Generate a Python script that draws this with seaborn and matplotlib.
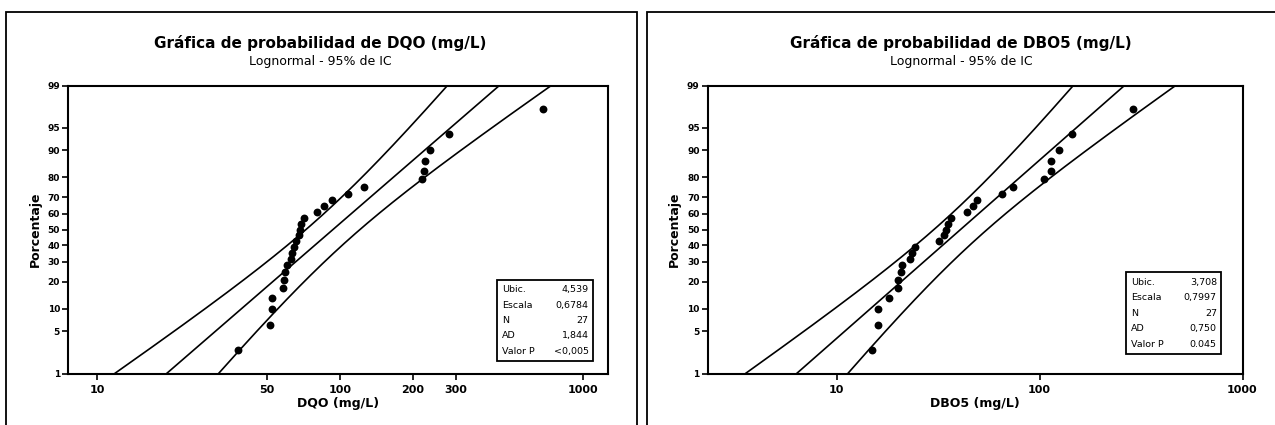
import numpy as np
import matplotlib
matplotlib.use("Agg")
import matplotlib.pyplot as plt
import seaborn as sns
from matplotlib.patches import Rectangle
from matplotlib.ticker import NullLocator
from statistics import NormalDist

# Data (sorted values, mg/L)
dqo_vals = [38, 51.5, 52.6, 52.6, 58.4, 59.0, 59.3, 60.3, 62.8, 63.7, 64.9, 66.2, 67.5, 68.4,
            69.4, 71.1, 80.6, 85.9, 92.4, 108, 126, 217, 222, 223, 236, 280, 684]
dbo5_vals = [15.0, 15.9, 15.9, 18.2, 20.1, 20.0, 20.7, 20.9, 23.0, 23.4, 24.3, 31.9, 33.8, 34.6,
             35.4, 36.4, 44.0, 47.1, 49.3, 65.1, 73.8, 105.6, 113.6, 113.6, 125.2, 145.2, 290]
# plotting positions (percent)
pct = [2.6, 6.2, 9.9, 13.5, 17.2, 20.8, 24.5, 28.1, 31.8, 35.4, 39.1, 42.7, 46.4, 50.0,
       53.6, 57.3, 60.9, 64.6, 68.2, 71.9, 75.5, 79.2, 82.8, 86.5, 90.1, 93.8, 97.4]

stat_labels = ["Ubic.", "Escala", "N", "AD", "Valor P"]
dqo_stats = ["4,539", "0,6784", "27", "1,844", "<0,005"]
dbo5_stats = ["3,708", "0,7997", "27", "0,750", "0.045"]
dqo_loc, dqo_scale = 4.539, 0.6784
dbo5_loc, dbo5_scale = 3.708, 0.7997
n_obs = 27

y_ticks = [1, 5, 10, 20, 30, 40, 50, 60, 70, 80, 90, 95, 99]
dqo_xticks = [10, 50, 100, 200, 300, 1000]
dbo5_xticks = [10, 100, 1000]

nd = NormalDist()

def probit(p):
    p = np.clip(np.asarray(p, dtype=float), 1e-6, 100 - 1e-6)
    return np.vectorize(lambda v: nd.inv_cdf(v / 100), otypes=[float])(p)

def inv_probit(z):
    z = np.asarray(z, dtype=float)
    return np.vectorize(lambda v: nd.cdf(v) * 100, otypes=[float])(z)

sns.set_style("white")
plt.rcParams['font.family'] = ['DejaVu Sans']
plt.rcParams.update({'text.color': 'black', 'axes.labelcolor': 'black',
                     'xtick.color': 'black', 'ytick.color': 'black'})

fig = plt.figure(figsize=(12.75, 4.25), dpi=100)
W, H = 1275, 425

# outer panel frames
fig.add_artist(Rectangle((6 / W, -0.05), (637 - 6) / W, (425 - 12) / H + 0.05,
                         transform=fig.transFigure, fill=False, lw=1.3, ec='black'))
fig.add_artist(Rectangle((647 / W, -0.05), (1290 - 647) / W, (425 - 12) / H + 0.05,
                         transform=fig.transFigure, fill=False, lw=1.3, ec='black'))


def prob_panel(rect, vals, loc, scale, stats, xlim, xticks, xlabel, title, cx, box):
    ax = fig.add_axes(rect)

    # fitted line and 95% CI (drawn before the scales are set, so seaborn keeps raw values)
    z = np.linspace(nd.inv_cdf(0.01), nd.inv_cdf(0.99), 200)
    yy = inv_probit(z)
    mid = loc + scale * z
    half = 1.96 * scale * np.sqrt(1 / n_obs + z ** 2 / (2 * n_obs))
    for ln_x in (mid - half, mid, mid + half):
        sns.lineplot(x=np.exp(ln_x), y=yy, ax=ax, color='black', lw=1.2,
                     sort=False, estimator=None)

    sns.scatterplot(x=vals, y=pct, ax=ax, color='black', s=32, linewidth=0, zorder=3)

    ax.set_yscale('function', functions=(probit, inv_probit))
    ax.set_xscale('log')
    ax.set_xlim(*xlim)
    ax.set_ylim(1, 99)
    ax.set_xticks(xticks)
    ax.set_xticklabels([str(t) for t in xticks], fontsize=8, fontweight='bold')
    ax.set_yticks(y_ticks)
    ax.set_yticklabels([str(t) for t in y_ticks], fontsize=6.5, fontweight='bold')
    ax.xaxis.set_minor_locator(NullLocator())
    ax.yaxis.set_minor_locator(NullLocator())
    ax.tick_params(axis='both', direction='out', length=4, width=1.2, pad=2,
                   bottom=True, left=True)
    ax.tick_params(axis='x', pad=4)
    for sp in ax.spines.values():
        sp.set_linewidth(1.5)
        sp.set_color('black')
    ax.set_xlabel(xlabel, fontsize=9, fontweight='bold', labelpad=2)
    ax.set_ylabel("Porcentaje", fontsize=9, fontweight='bold', labelpad=4)

    fig.text(cx, 1 - 43 / H, title, ha='center', va='center', fontsize=11, fontweight='bold')
    fig.text(cx, 1 - 62 / H, "Lognormal - 95% de IC", ha='center', va='center', fontsize=9)

    # stats box
    x0, y0, x1, y1 = box
    ax.add_patch(Rectangle((x0, y0), x1 - x0, y1 - y0, transform=ax.transAxes,
                           fill=True, fc='white', ec='black', lw=1.3, zorder=4))
    rows = np.linspace(y1 - (y1 - y0) * 0.12, y0 + (y1 - y0) * 0.12, len(stat_labels))
    for lab, val, ry in zip(stat_labels, stats, rows):
        ax.text(x0 + 0.01, ry, lab, transform=ax.transAxes, fontsize=6.8,
                ha='left', va='center', zorder=5)
        ax.text(x1 - 0.008, ry, val, transform=ax.transAxes, fontsize=6.8,
                ha='right', va='center', zorder=5)
    return ax


prob_panel([68.3 / W, 1 - 373.5 / H, 539.7 / W, 288 / H], dqo_vals, dqo_loc, dqo_scale,
           dqo_stats, (7.6, 1271), dqo_xticks, "DQO (mg/L)",
           "Gráfica de probabilidad de DQO (mg/L)", 320 / W,
           (0.794, 0.043, 0.972, 0.325))
prob_panel([708 / W, 1 - 373.5 / H, 534.5 / W, 288 / H], dbo5_vals, dbo5_loc, dbo5_scale,
           dbo5_stats, (2.32, 1000), dbo5_xticks, "DBO5 (mg/L)",
           "Gráfica de probabilidad de DBO5 (mg/L)", 961 / W,
           (0.782, 0.068, 0.960, 0.351))

fig.savefig("out.png", dpi=100)
